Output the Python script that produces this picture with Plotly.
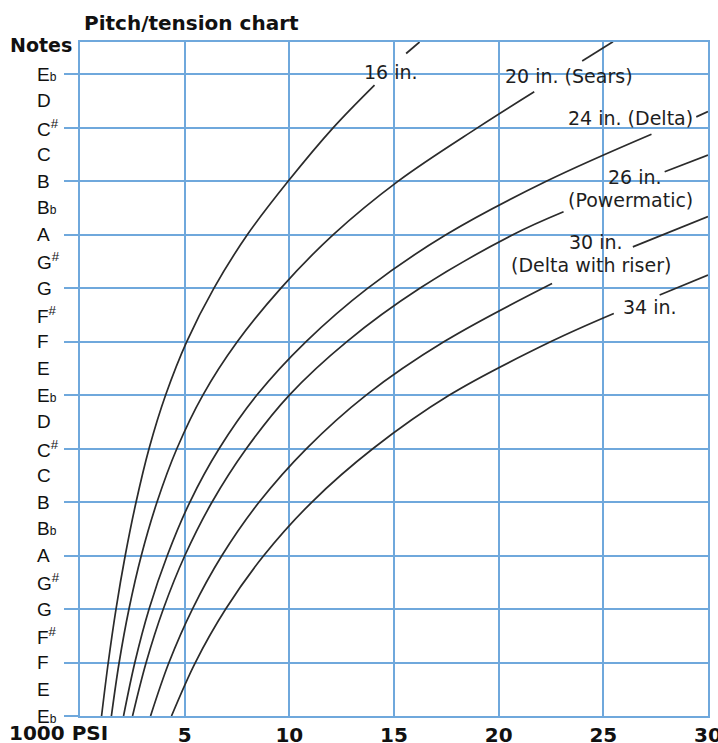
import plotly.graph_objects as go

# ---- data ----
# y values are semitones above the lower E-flat (0 .. 24 = two octaves)
note_labels = [
    "E<span style='font-size:12px'>b</span>", "E", "F", "F<sup>#</sup>", "G", "G<sup>#</sup>",
    "A", "B<span style='font-size:12px'>b</span>", "B", "C", "C<sup>#</sup>", "D",
    "E<span style='font-size:12px'>b</span>", "E", "F", "F<sup>#</sup>", "G", "G<sup>#</sup>",
    "A", "B<span style='font-size:12px'>b</span>", "B", "C", "C<sup>#</sup>", "D",
    "E<span style='font-size:12px'>b</span>",
]
note_steps = list(range(25))
grid_steps = list(range(0, 25, 2))

psi_ticks = [5, 10, 15, 20, 25, 30]
psi_tick_text = ["<b>5</b>", "<b>10</b>", "<b>15</b>", "<b>20</b>", "<b>25</b>", "<b>30</b>"]

# tension (1000 PSI) vs. pitch (semitones) for each blade length; None = break under label
psi_16 = [1.03, 1.35, 1.72, 2.16, 2.68, 3.3, 4.09, 5.1, 6.4, 8.0, 9.95, 12.1, 14.07, None, 15.58, 16.22]
step_16 = [0, 2, 4, 6, 8, 10, 12, 14, 16, 18, 20, 22, 23.59, None, 24.77, 25.2]

psi_20 = [1.5, 1.87, 2.34, 2.93, 3.68, 4.63, 5.87, 7.52, 9.6, 12.1, 15.2, 19.0, 21.7, None, 23.99, 25.46]
step_20 = [0, 2, 4, 6, 8, 10, 12, 14, 16, 18, 20, 22, 23.34, None, 24.49, 25.21]

psi_24 = [2.08, 2.62, 3.3, 4.17, 5.25, 6.65, 8.45, 10.8, 13.75, 17.5, 22.3, 27.3, None, 29.44, 30.0]
step_24 = [0, 2, 4, 6, 8, 10, 12, 14, 16, 18, 20, 21.75, None, 22.4, 22.6]

psi_26 = [2.51, 3.16, 3.98, 5.01, 6.31, 7.95, 10.0, 12.75, 16.25, 20.7, 23.1, None, 27.93, 30.0]
step_26 = [0, 2, 4, 6, 8, 10, 12, 14, 16, 18, 18.85, None, 20.35, 20.97]

psi_30 = [3.37, 4.25, 5.37, 6.78, 8.56, 10.82, 13.67, 17.4, 22.55, None, 26.41, 30.0]
step_30 = [0, 2, 4, 6, 8, 10, 12, 14, 16.17, None, 17.54, 18.67]

psi_34 = [4.37, 5.51, 6.96, 8.78, 11.08, 14.0, 17.65, 22.5, 25.5, None, 27.69, 30.0]
step_34 = [0, 2, 4, 6, 8, 10, 12, 14, 15.05, None, 15.74, 16.49]

curve_labels = ["16 in.", "20 in. (Sears)", "24 in. (Delta)", "26 in.", "(Powermatic)",
                "30 in.", "(Delta with riser)", "34 in."]
label_psi = [14.88, 23.37, 26.28, 26.49, 26.3, 24.66, 24.42, 27.21]
label_step = [24.07, 23.93, 22.34, 20.16, 19.29, 17.73, 16.86, 15.3]

# ---- styling ----
GRID = "#6fa8dc"
INK = "#2b2b2b"
X0, X1 = 80.5, 708.0
Y0, Y1 = 716.0, 42.0


def px_x(p):
    return (p - X0) / (X1 - X0)


def px_y(p):
    return (Y0 - p) / (Y0 - Y1)


fig = go.Figure()
for xs, ys in [(psi_16, step_16), (psi_20, step_20), (psi_24, step_24),
               (psi_26, step_26), (psi_30, step_30), (psi_34, step_34)]:
    fig.add_trace(go.Scatter(
        x=xs, y=ys, mode="lines", connectgaps=False,
        line=dict(color=INK, width=1.7, shape="spline", smoothing=1.0),
        hoverinfo="skip", showlegend=False,
    ))

annotations = []
for txt, xv, yv in zip(curve_labels, label_psi, label_step):
    annotations.append(dict(x=xv, y=yv, xref="x", yref="y", text=txt, showarrow=False,
                            xanchor="center", yanchor="middle",
                            font=dict(family="DejaVu Sans", size=19, color="#1e1e1e")))
for txt, sv in zip(note_labels, note_steps):
    annotations.append(dict(x=px_x(36), y=sv, xref="paper", yref="y", text=txt, showarrow=False,
                            xanchor="left", yanchor="middle",
                            font=dict(family="Liberation Sans", size=19, color="#111")))
annotations.append(dict(x=px_x(82), y=px_y(23), xref="paper", yref="paper",
                        text="<b>Pitch/tension chart</b>", showarrow=False,
                        xanchor="left", yanchor="middle",
                        font=dict(family="DejaVu Sans", size=20, color="#111")))
annotations.append(dict(x=px_x(9), y=px_y(45), xref="paper", yref="paper",
                        text="<b>Notes</b>", showarrow=False,
                        xanchor="left", yanchor="middle",
                        font=dict(family="DejaVu Sans", size=19, color="#111")))
annotations.append(dict(x=px_x(8), y=px_y(733), xref="paper", yref="paper",
                        text="<b>1000 PSI</b>", showarrow=False,
                        xanchor="left", yanchor="middle",
                        font=dict(family="DejaVu Sans", size=20, color="#111")))

fig.update_layout(
    width=718, height=743,
    margin=dict(l=80, r=10, t=42, b=27, pad=0),
    paper_bgcolor="white", plot_bgcolor="white",
    annotations=annotations,
    showlegend=False,
)
fig.update_xaxes(
    range=[0, 30], tickmode="array", tickvals=psi_ticks, ticktext=psi_tick_text,
    showgrid=True, gridcolor=GRID, gridwidth=2,
    showline=True, linecolor=GRID, linewidth=2, mirror=True,
    ticks="", zeroline=False, automargin=False, ticklabeloverflow="allow",
    tickfont=dict(family="DejaVu Sans", size=20, color="#111"),
)
fig.update_yaxes(
    range=[0, 25.2], tickmode="array", tickvals=grid_steps, showticklabels=False,
    showgrid=True, gridcolor=GRID, gridwidth=2,
    showline=True, linecolor=GRID, linewidth=2, mirror=True,
    ticks="outside", ticklen=14, tickwidth=2, tickcolor=GRID,
    zeroline=False, automargin=False,
)

fig.write_html("out.html", config={"displayModeBar": False},
               post_script="document.body.style.margin='0';")
